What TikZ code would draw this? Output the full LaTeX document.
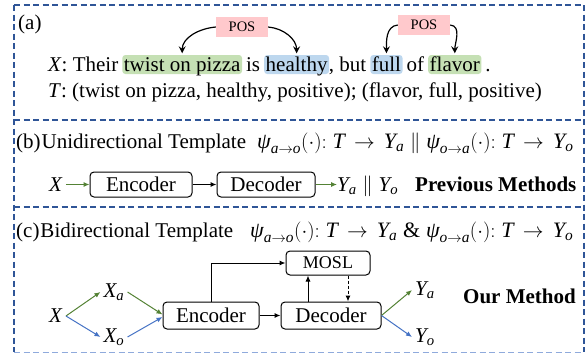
\documentclass[tikz,border=0pt]{standalone}
\usepackage{amsmath}
\usepackage{fontspec}
\setmainfont{Liberation Serif}
\usetikzlibrary{arrows.meta,calc}
\definecolor{frame}{HTML}{2F5597}
\definecolor{framelt}{HTML}{8FAADC}
\definecolor{hlgreen}{HTML}{C5E0B4}
\definecolor{hlblue}{HTML}{BDD7EE}
\definecolor{posfill}{HTML}{FFC9CC}
\definecolor{agreen}{HTML}{548235}
\definecolor{ablue}{HTML}{4472C4}
\newcommand\fsA{\fontsize{21}{25}\selectfont}
\newcommand\fsF{\fontsize{22}{26}\selectfont}
\newcommand\fsP{\fontsize{14.5}{17}\selectfont}
\newcommand\fsM{\fontsize{18}{21}\selectfont}
\newcommand\mv[1]{\textit{#1}}
\newcommand\bto{\,\to\,}
\begin{document}
\begin{tikzpicture}[x=1pt,y=-1pt,
 frameline/.style={draw=frame, line width=2.2pt, dash pattern=on 6pt off 3.5pt},
 txt/.style={inner sep=0pt, anchor=base west, font=\fsA},
 hl/.style={txt, rounded corners=3pt, inner xsep=1.5pt, inner ysep=0pt, text height=16pt, text depth=3pt},
 hlg/.style={hl, fill=hlgreen},
 hlb/.style={hl, fill=hlblue},
 posbox/.style={fill=posfill, minimum width=52pt, minimum height=20pt, inner sep=0pt, font=\fsP},
 curv/.style={-{Stealth[length=7pt,width=7pt,inset=2.5pt]}, line width=1.2pt, shorten >=1.5pt},
 blk/.style={draw, line width=1pt, rounded corners=4pt, fill=white, inner sep=0pt, font=\fsA},
 arr/.style={-{Latex[length=6pt,width=5pt]}, line width=1pt},
 garr/.style={arr, color=agreen},
 barr/.style={arr, color=ablue},
 lbl/.style={inner sep=3pt, font=\fsA},
]
\useasboundingbox (0,0) rectangle (587,354);
% frames
\draw[frameline] (14,5) -- (584,5);
\draw[frameline] (14,120) -- (584,120);
\draw[frameline] (14,207) -- (584,207);
\draw[frameline] (14,5) -- (14,352);
\draw[frameline] (584,5) -- (584,352);
\draw[draw=framelt, line width=1pt, dash pattern=on 6pt off 3.5pt] (14,352.5) -- (584,352.5);

% (a)
\node[txt] (la) at (18,29) {(a)};
\node[txt] (s0) at (48,71) {\mv{X}: Their};
\node[hlg] (w1) at ([xshift=3.7pt]s0.base east) {twist on pizza};
\node[txt] (s1) at ([xshift=3.7pt]w1.base east) {is};
\node[hlb] (w2) at ([xshift=3.7pt]s1.base east) {healthy};
\node[txt] (s2) at ([xshift=-0.5pt]w2.base east) {, but};
\node[hlb] (w3) at ([xshift=3.7pt]s2.base east) {full};
\node[txt] (s3) at ([xshift=3.7pt]w3.base east) {of};
\node[hlg] (w4) at ([xshift=3.7pt]s3.base east) {flavor};
\node[txt] (s4) at ([xshift=3.7pt]w4.base east) {.};
\node[txt] (tl) at (48,97) {\mv{T}: (twist on pizza, healthy, positive); (flavor, full, positive)};
\node[posbox] (p1) at (242,27) {POS};
\node[posbox] (p2) at (424,25) {POS};
\draw[curv] (p1.west) to[out=185,in=90] (w1.north);
\draw[curv] (p1.east) to[out=-5,in=90] (w2.north);
\draw[curv] (p2.west) to[out=185,in=90] (w3.north);
\draw[curv] (p2.east) to[out=-5,in=90] (w4.north);

% (b)
\node[txt] (lb) at (16,148) {(b)\kern1pt Unidirectional Template};
\node[txt, font=\fsF] (fb) at (257,148) {$\mv{ψ}_{\mv{a}\to \mv{o}}(\cdot){:}\;\mv{T}\bto \mv{Y}_{\mv{a}} \;\|\; \mv{ψ}_{\mv{o}\to \mv{a}}(\cdot){:}\;\mv{T}\bto \mv{Y}_{\mv{o}}$};
\node[lbl] (xb) at (56,184.5) {\mv{X}};
\node[blk, minimum width=102pt, minimum height=25pt] (e1) at (141,184.5) {Encoder};
\node[blk, minimum width=98pt, minimum height=25pt] (d1) at (266,184.5) {Decoder};
\node[txt] (yb) at (337,191) {$\mv{Y}_{\mv{a}} \;\|\; \mv{Y}_{\mv{o}}$};
\node[txt, font=\fsA\bfseries] (pm) at (415,191) {Previous Methods};
\draw[garr] (xb) -- (e1);
\draw[arr] (e1) -- (d1);
\draw[garr] (d1.east) -- (d1.east -| yb.west);

% (c)
\node[txt] (lc) at (16,237) {(c)\kern1pt Bidirectional Template};
\node[txt, font=\fsF] (fc) at (250,237) {$\mv{ψ}_{\mv{a}\to \mv{o}}(\cdot){:}\;\mv{T}\bto \mv{Y}_{\mv{a}} \;\textrm{\&}\; \mv{ψ}_{\mv{o}\to \mv{a}}(\cdot){:}\;\mv{T}\bto \mv{Y}_{\mv{o}}$};
\node[lbl] (xc) at (56,316) {\mv{X}};
\node[lbl] (xa) at (114,292) {$\mv{X}_{\mv{a}}$};
\node[lbl] (xo) at (114,337) {$\mv{X}_{\mv{o}}$};
\node[blk, minimum width=96pt, minimum height=27pt] (e2) at (211,315.5) {Encoder};
\node[blk, minimum width=100pt, minimum height=27pt] (d2) at (331,315.5) {Decoder};
\node[blk, minimum width=84pt, minimum height=24pt, font=\fsM] (ms) at (328,263) {MOSL};
\node[lbl] (ya) at (425,290) {$\mv{Y}_{\mv{a}}$};
\node[lbl] (yo) at (425,337) {$\mv{Y}_{\mv{o}}$};
\node[txt, font=\fsA\bfseries] (om) at (463,303) {Our Method};
\draw[garr] (xc.east) -- (xa.west);
\draw[barr] (xc.east) -- (xo.west);
\draw[garr] (xa.east) -- ([yshift=1pt]e2.west);
\draw[barr] (xo.east) -- ([yshift=-1.5pt]e2.west);
\draw[arr] (e2) -- (d2);
\draw[arr] (e2.north) |- (ms.west);
\draw[arr] ([xshift=-23pt]d2.north) -- ([xshift=-20pt]ms.south);
\draw[arr, dash pattern=on 3pt off 2pt] ([xshift=20pt]ms.south) -- ([xshift=17pt]d2.north);
\draw[garr] (d2.east) -- (ya.west);
\draw[barr] (d2.east) -- (yo.west);
\end{tikzpicture}
\end{document}
